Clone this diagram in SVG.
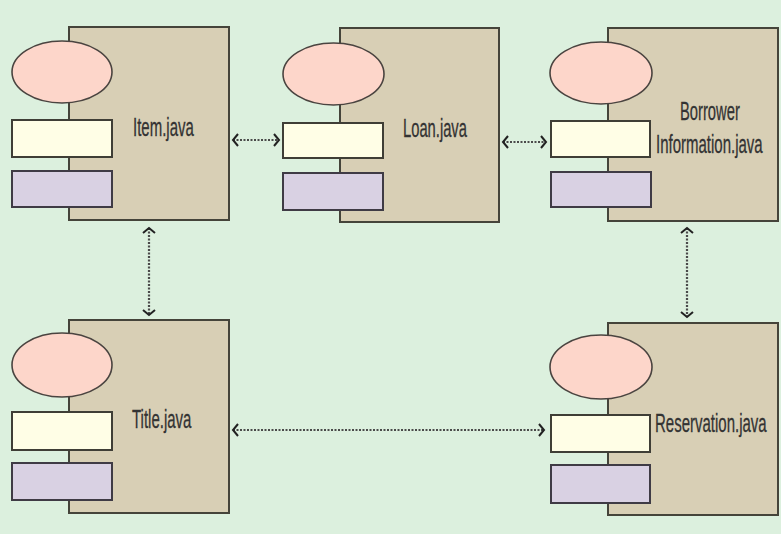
<svg xmlns="http://www.w3.org/2000/svg" width="781" height="534" viewBox="0 0 781 534">
<defs>
<style>
.body{fill:#d8cfb5;stroke:#45443a;stroke-width:2}
.oval{fill:#fdd6ca;stroke:#4a4440;stroke-width:1.6}
.yel{fill:#fffee6;stroke:#3f3e36;stroke-width:2}
.pur{fill:#d9d1e3;stroke:#3f3b45;stroke-width:2}
.lbl{font-family:"Liberation Sans",Arial,sans-serif;font-size:25px;fill:#333;stroke:#333;stroke-width:0.3}
.con{stroke:#4a4a4a;stroke-width:2.2;stroke-dasharray:2 1.5;fill:none;marker-start:url(#chev);marker-end:url(#chev)}
</style>
<marker id="chev" viewBox="-7 -8 9 16" refX="0" refY="0" markerWidth="9" markerHeight="16" markerUnits="userSpaceOnUse" orient="auto-start-reverse">
<path d="M-5,-6 L0,0 L-5,6" fill="none" stroke="#222" stroke-width="2"/>
</marker>
</defs>
<rect width="781" height="534" fill="#dcf0de"/>
<g id="connectors">
<line class="con" x1="233" y1="140" x2="279" y2="140"/>
<line class="con" x1="503" y1="142" x2="546" y2="142"/>
<line class="con" x1="149" y1="228" x2="149" y2="315"/>
<line class="con" x1="687" y1="228" x2="687" y2="317"/>
<line class="con" x1="233" y1="430" x2="544" y2="430"/>
</g>
<g id="item">
<rect class="body" x="69" y="27" width="160" height="193"/>
<ellipse class="oval" cx="62" cy="72" rx="50" ry="31"/>
<rect class="yel" x="12" y="120" width="100" height="37"/>
<rect class="pur" x="12" y="171" width="100" height="36"/>
<text class="lbl" transform="translate(133,136) scale(0.6,1)">Item.java</text>
</g>
<g id="loan">
<rect class="body" x="340" y="28" width="159" height="194"/>
<ellipse class="oval" cx="333.5" cy="74" rx="50.5" ry="31"/>
<rect class="yel" x="283" y="123" width="100" height="35"/>
<rect class="pur" x="283" y="173" width="100" height="37"/>
<text class="lbl" transform="translate(403,137) scale(0.59,1)">Loan.java</text>
</g>
<g id="borrower">
<rect class="body" x="608" y="28" width="170" height="193"/>
<ellipse class="oval" cx="601" cy="73" rx="51" ry="31"/>
<rect class="yel" x="551" y="121" width="99" height="36"/>
<rect class="pur" x="551" y="172" width="100" height="35"/>
<text class="lbl" transform="translate(680,120) scale(0.59,1)">Borrower</text>
<text class="lbl" transform="translate(656,153) scale(0.6,1)">Information.java</text>
</g>
<g id="title">
<rect class="body" x="69" y="320" width="160" height="193"/>
<ellipse class="oval" cx="62" cy="365" rx="50" ry="32"/>
<rect class="yel" x="12" y="412" width="100" height="38"/>
<rect class="pur" x="12" y="463" width="100" height="37"/>
<text class="lbl" transform="translate(132,428) scale(0.6,1)">Title.java</text>
</g>
<g id="reservation">
<rect class="body" x="608" y="323" width="170" height="192"/>
<ellipse class="oval" cx="601" cy="367" rx="51" ry="32"/>
<rect class="yel" x="551" y="415" width="99" height="37"/>
<rect class="pur" x="551" y="465" width="99" height="38"/>
<text class="lbl" transform="translate(655,432) scale(0.6,1)">Reservation.java</text>
</g>
</svg>
